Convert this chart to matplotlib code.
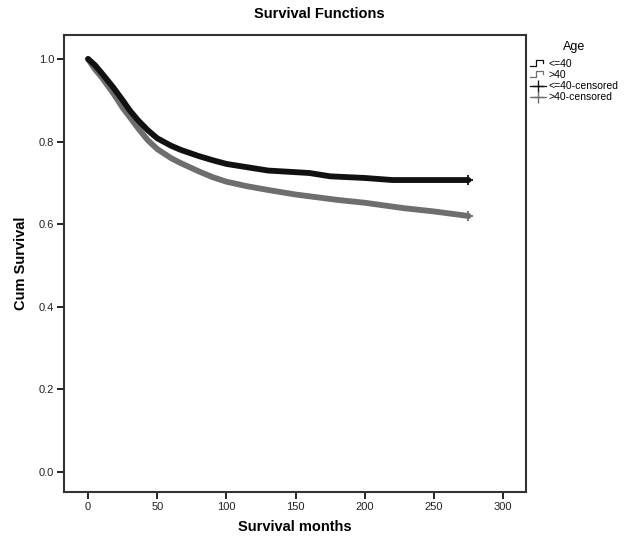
import matplotlib
matplotlib.use("Agg")
import matplotlib.pyplot as plt
from matplotlib.legend_handler import HandlerBase
from matplotlib.lines import Line2D

plt.rcParams['font.family'] = ['Liberation Sans', 'DejaVu Sans']

# survival estimates
t_young = [0, 5, 10, 18, 25, 30, 36, 43, 50, 60, 67, 80, 90, 100, 115, 130,
           140, 160, 175, 200, 220, 240, 260, 275]
s_young = [1.0, 0.985, 0.965, 0.932, 0.9, 0.876, 0.852, 0.828, 0.808, 0.79,
           0.78, 0.765, 0.755, 0.746, 0.738, 0.73, 0.728, 0.724, 0.716, 0.712,
           0.707, 0.707, 0.707, 0.707]
t_old = [0, 2, 5, 10, 18, 25, 30, 36, 43, 50, 60, 67, 80, 90, 100, 115, 130,
         150, 180, 200, 228, 250, 275]
s_old = [1.0, 0.99, 0.975, 0.955, 0.918, 0.882, 0.86, 0.833, 0.804, 0.782,
         0.76, 0.748, 0.728, 0.714, 0.703, 0.692, 0.683, 0.672, 0.659, 0.652,
         0.639, 0.631, 0.62]

groups = ['<=40', '>40']
colors = ['#111111', '#6e6e6e']
x_ticks = [0, 50, 100, 150, 200, 250, 300]
y_ticks = [0.0, 0.2, 0.4, 0.6, 0.8, 1.0]


class StepHandler(HandlerBase):
    def create_artists(self, legend, orig_handle, xdescent, ydescent,
                       width, height, fontsize, trans):
        w, h = width, height
        xs = [0, w * 0.4, w * 0.4, w * 0.8, w * 0.8]
        ys = [h * 0.1, h * 0.1, h * 0.9, h * 0.9, h * 0.5]
        ln = Line2D([x - xdescent for x in xs], [y - ydescent for y in ys],
                    color=orig_handle.get_color(), lw=0.9, transform=trans)
        return [ln]


fig = plt.figure(figsize=(6.37, 5.43), dpi=100)
ax = fig.add_axes([0.1005, 0.094, 0.7255, 0.8415])

# older group underneath, younger on top
ax.plot(t_old, s_old, color=colors[1], lw=4.2, zorder=2,
        solid_capstyle='round', solid_joinstyle='round',
        marker='+', ms=7, mew=1.3, markevery=[-1])
ax.plot(t_young, s_young, color=colors[0], lw=4.2, zorder=3,
        solid_capstyle='round', solid_joinstyle='round',
        marker='+', ms=7, mew=1.3, markevery=[-1])

ax.set_xlim(-17.4, 316.7)
ax.set_ylim(-0.048, 1.058)
ax.set_xticks(x_ticks)
ax.set_yticks(y_ticks)
ax.set_xticklabels([str(v) for v in x_ticks])
ax.set_yticklabels([f'{v:.1f}' for v in y_ticks])
ax.tick_params(direction='out', length=5, width=1.4, labelsize=8,
               color='#222222', labelcolor='#222222', pad=2)
for sp in ax.spines.values():
    sp.set_linewidth(1.5)
    sp.set_color('#333333')

ax.set_xlabel('Survival months', fontsize=10.5, fontweight='bold', labelpad=6)
ax.set_ylabel('Cum Survival', fontsize=10.5, fontweight='bold', labelpad=8)
fig.text(0.502, 0.975, 'Survival Functions', fontsize=10.5,
         fontweight='bold', ha='center', va='center')

h_young = Line2D([], [], color=colors[0])
h_old = Line2D([], [], color=colors[1])
h_cy = Line2D([], [], color=colors[0], marker='+', ls='-', lw=0.9, ms=8)
h_co = Line2D([], [], color=colors[1], marker='+', ls='-', lw=0.9, ms=8)
leg = fig.legend([h_young, h_old, h_cy, h_co],
                 ['<=40', '>40', '<=40-censored', '>40-censored'],
                 handler_map={h_young: StepHandler(), h_old: StepHandler()},
                 loc='upper left', bbox_to_anchor=(0.825, 0.932),
                 frameon=False, fontsize=7.5, title='Age', title_fontsize=9,
                 handlelength=1.6, handletextpad=0.2, labelspacing=0.12,
                 borderaxespad=0)
leg._legend_box.sep = 4

fig.savefig('out.png', dpi=100)
